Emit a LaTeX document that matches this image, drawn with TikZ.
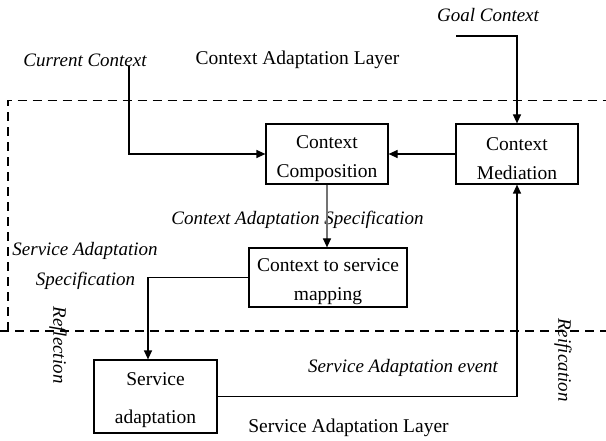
\documentclass[tikz,border=0pt]{standalone}
\usepackage{fontspec}
\setmainfont{Liberation Serif}
\usetikzlibrary{arrows.meta}
\begin{document}
\begin{tikzpicture}[x=1pt,y=-1pt,
  every node/.style={font=\fontsize{19.5}{29}\selectfont, inner sep=0pt},
  blk/.style={draw, line width=1.2pt, rectangle, align=center},
  lbl/.style={font=\fontsize{19}{29}\selectfont\itshape},
  conn/.style={line width=1.2pt},
  arr/.style={conn, -{Triangle[length=9pt,width=8pt]}},
  layer/.style={line width=1.2pt, dash pattern=on 9pt off 6pt}]
\useasboundingbox (0,0) rectangle (606,441);

% layer boundary
\draw[layer] (8,331) -- (8,100.5) -- (606,100.5);
\draw[layer] (0,331) -- (606,331);

% boxes
\node[blk, minimum width=122pt, minimum height=60pt] (comp) at (327,154) {\rule{0pt}{22pt}Context\\Composition};
\node[blk, minimum width=122pt, minimum height=60pt] (med) at (517,154) {\rule{0pt}{22pt}Context\\Mediation};
\node[blk, minimum width=158pt, minimum height=59pt] (map) at (328,277.5) {\rule{0pt}{22pt}Context to service\\mapping};
\node[blk, minimum width=123pt, minimum height=73pt, font=\fontsize{19.5}{38}\selectfont] (sa) at (155.5,396.5) {\rule{0pt}{21pt}Service\\adaptation};

% labels
\node[lbl] (goal) at (488,15) {Goal Context};
\node[lbl] (cur) at (85,60) {Current Context};
\node (cal) at (297.5,60) {Context Adaptation Layer};
\node[lbl] (cas) at (297.5,220) {Context Adaptation Specification};
\node[lbl] (sas1) at (85,251) {Service Adaptation};
\node[lbl] (sas2) at (85.5,281) {Specification};
\node[lbl] (sae) at (403,368) {Service Adaptation event};
\node (sal) at (348.5,428) {Service Adaptation Layer};
\node[lbl, rotate=-90] (refl) at (58,345) {Reflection};
\node[lbl, rotate=-90] (reif) at (563,360) {Reification};

% connector start points
\coordinate (gstart) at (456,36);
\coordinate (cstart) at (129,66);

% connectors
\draw[arr] (gstart) -| (med.north);
\draw[arr] (cstart) |- (comp.west);
\draw[arr] (med.west) -- (comp.east);
\draw[conn, draw=black!55, -{Triangle[length=9pt,width=8pt,fill=black,color=black]}] (comp.south) -- (comp.south |- map.north);
\draw[arr] (map.west) -| ([xshift=-7.5pt]sa.north);
\draw[arr] (sa.east) -| (med.south);
\end{tikzpicture}
\end{document}
